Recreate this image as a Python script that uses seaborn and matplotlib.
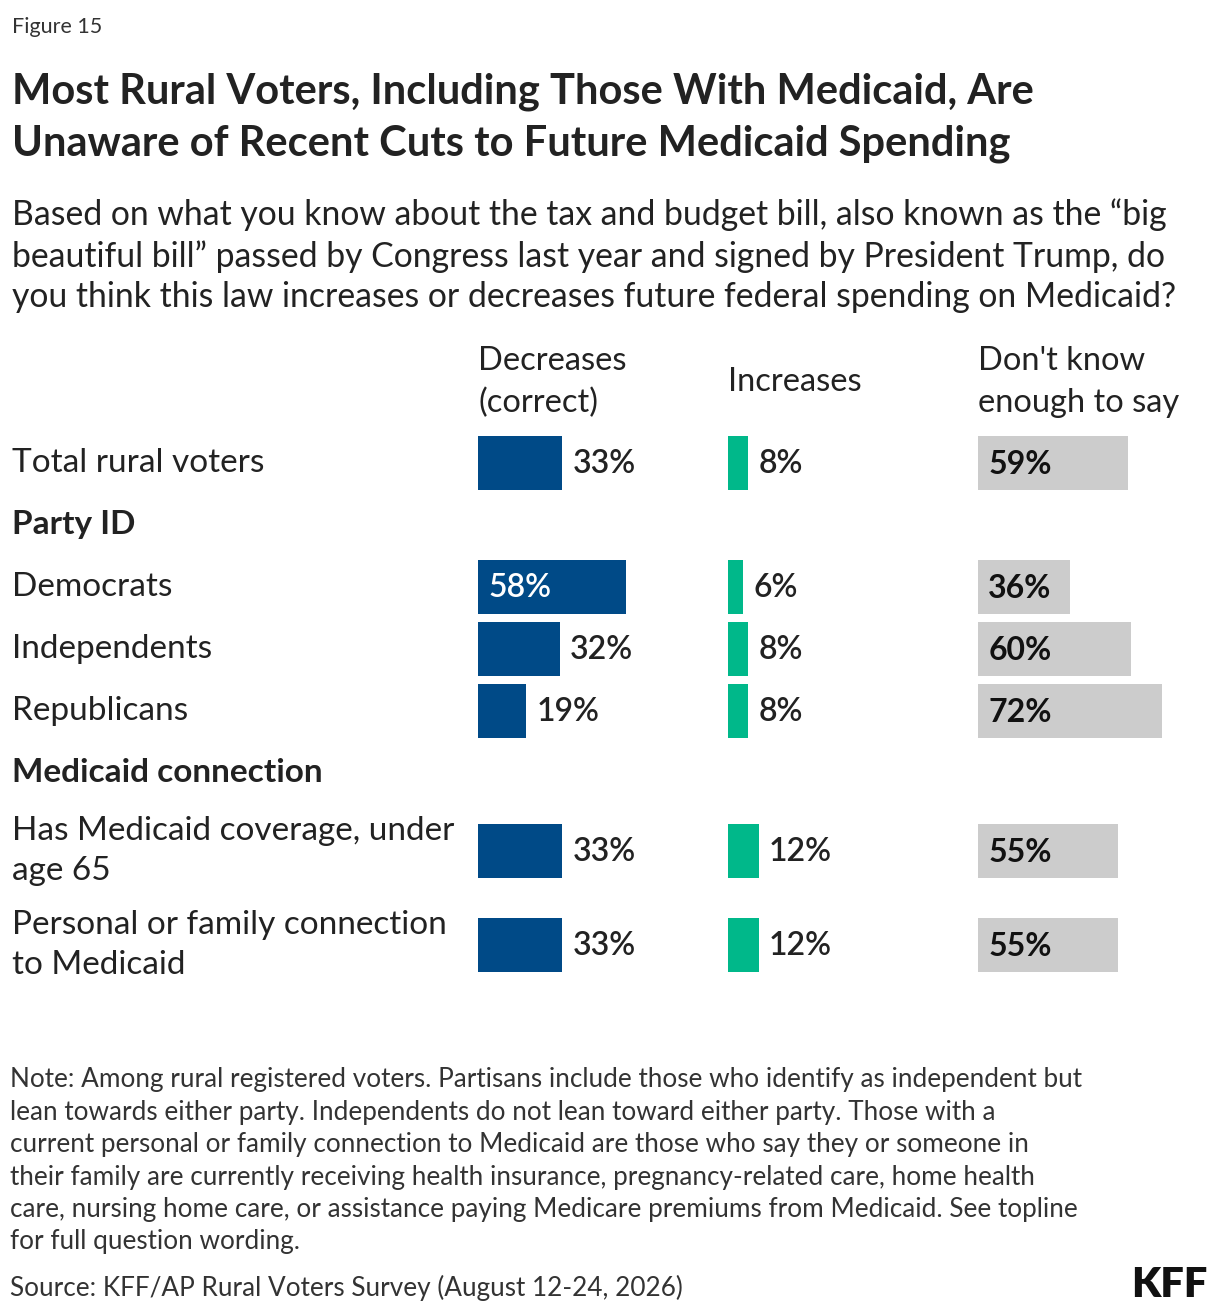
import matplotlib
matplotlib.use("Agg")
import matplotlib.pyplot as plt
import seaborn as sns

rows = ["Total rural voters", "Democrats", "Independents", "Republicans",
        "Has Medicaid coverage, under\nage 65", "Personal or family connection\nto Medicaid"]
decreases = [33, 58, 32, 19, 33, 33]
increases = [8, 6, 8, 8, 12, 12]
dont_know = [59, 36, 60, 72, 55, 55]
columns = ["Decreases\n(correct)", "Increases", "Don't know\nenough to say"]
groups = ["Party ID", "Medicaid connection"]

sns.set_theme(style="white")
plt.rcParams['font.family'] = ['Lato', 'DejaVu Sans']

W, H = 1220, 1316
fig = plt.figure(figsize=(W / 100, H / 100), dpi=100)

def fx(px):
    return px / W

def fy(py):
    return 1 - py / H

txt = "#222222"
fig.text(fx(12), fy(27), "Figure 15", fontsize=15.5, color="#333333", va="center")
fig.text(fx(12), fy(118), "Most Rural Voters, Including Those With Medicaid, Are\nUnaware of Recent Cuts to Future Medicaid Spending",
         fontsize=30, fontweight="bold", color=txt, va="center", linespacing=1.42)
fig.text(fx(12), fy(256), "Based on what you know about the tax and budget bill, also known as the \u201cbig\n"
         "beautiful bill\u201d passed by Congress last year and signed by President Trump, do\n"
         "you think this law increases or decreases future federal spending on Medicaid?",
         fontsize=24.3, color=txt, va="center", linespacing=1.33)

row_y = [463, 587, 649, 711, 851, 945]
group_y = [524, 772]
bar_h = 54
scale = 2.55  # px per percent
col_left = [478, 728, 978]
col_colors = ["#004a87", "#00b88a", "#cccccc"]
series = [decreases, increases, dont_know]
top, bottom = 420, 1000

for i, (vals, color, left) in enumerate(zip(series, col_colors, col_left)):
    width = 240
    ax = fig.add_axes([fx(left), fy(bottom), fx(width), (bottom - top) / H])
    ax.set_xlim(0, width / scale)
    ax.set_ylim(bottom, top)
    ax.barh(row_y, vals, height=bar_h, color=color, linewidth=0)
    ax.axis("off")
    for y, v in zip(row_y, vals):
        if i == 2:
            ax.text(4, y + 1, f"{v}%", color="#111111", fontsize=23, fontweight="bold", va="center")
        elif i == 0 and v > 45:
            ax.text(4, y + 1, f"{v}%", color="white", fontsize=23, fontweight="semibold", va="center")
        else:
            ax.text(v + 4, y + 1, f"{v}%", color=txt, fontsize=23, fontweight="semibold", va="center")
    fig.text(fx(left), fy(382), columns[i], fontsize=23.5, color=txt, va="center", linespacing=1.5)

for r, y in zip(rows, row_y):
    fig.text(fx(12), fy(y), r, fontsize=24, color=txt, va="center", linespacing=1.4)
for g, y in zip(groups, group_y):
    fig.text(fx(12), fy(y), g, fontsize=24, fontweight="bold", color=txt, va="center")

fig.text(fx(10), fy(1161), "Note: Among rural registered voters. Partisans include those who identify as independent but\n"
         "lean towards either party. Independents do not lean toward either party. Those with a\n"
         "current personal or family connection to Medicaid are those who say they or someone in\n"
         "their family are currently receiving health insurance, pregnancy-related care, home health\n"
         "care, nursing home care, or assistance paying Medicare premiums from Medicaid. See topline\n"
         "for full question wording.", fontsize=18.8, color="#333333", va="center", linespacing=1.37)
fig.text(fx(10), fy(1288), "Source: KFF/AP Rural Voters Survey (August 12-24, 2026)", fontsize=18.8,
         color="#333333", va="center")
fig.text(fx(1208), fy(1285), "KFF", fontsize=30, fontweight="heavy", color="#111111", va="center", ha="right")

fig.savefig("out.png", dpi=100)
